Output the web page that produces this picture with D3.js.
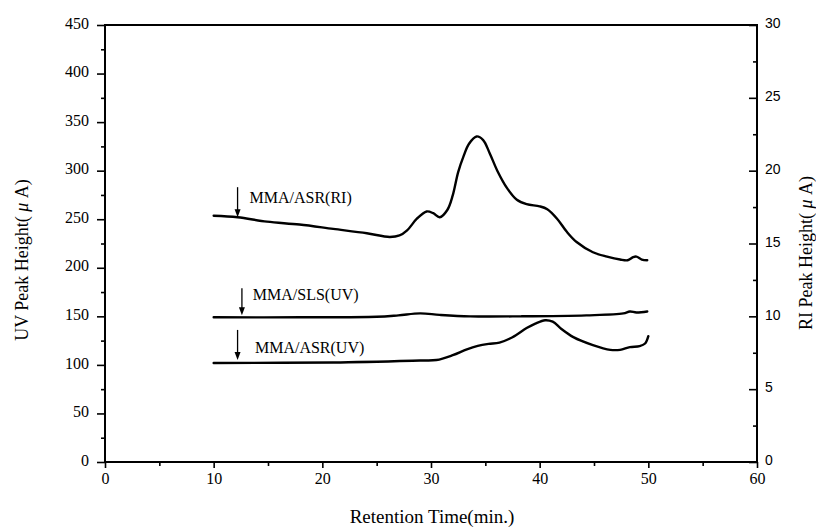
<!DOCTYPE html>
<html>
<head>
<meta charset="utf-8">
<script src="https://cdn.jsdelivr.net/npm/d3@7/dist/d3.min.js"></script>
<style>
   body { margin: 0; background: #fff; }
   svg { display: block; }
</style>
</head>
<body>
<div id="chart"></div>
<script>
//--------------------------------------------------------------
// DATA
//--------------------------------------------------------------
// MMA/ASR(RI) - right axis units
var riTime = [10, 12.2, 14.9, 17.9, 21.0, 24.1, 26.2, 27.1, 27.8, 28.7, 29.6, 30.2, 30.8, 31.5, 32.0, 32.5, 33.0, 33.5, 34.2, 34.8, 35.4, 36.1, 37.0, 37.9, 38.8, 40.0, 40.7, 41.6, 42.5, 43.4, 44.9, 46.2, 47.4, 48.1, 48.6, 48.9, 49.4, 49.9];
var riHeight = [16.9, 16.8, 16.5, 16.3, 16.0, 15.7, 15.45, 15.55, 15.9, 16.7, 17.2, 17.08, 16.8, 17.3, 18.3, 19.9, 21.0, 21.85, 22.35, 22.1, 21.2, 20.0, 18.8, 18.0, 17.7, 17.55, 17.35, 16.7, 15.8, 15.1, 14.4, 14.1, 13.9, 13.85, 14.06, 14.1, 13.9, 13.85];

// MMA/SLS(UV) - left axis units
var slsTime = [10, 18, 25, 27, 29, 30.8, 33.6, 38.2, 44.3, 47.7, 48.3, 48.9, 49.9];
var slsHeight = [149, 149, 149.5, 151, 153, 151.5, 150, 150, 151, 153, 155, 154, 155];

// MMA/ASR(UV) - left axis units
var asrTime = [10, 21, 29, 30.5, 32.0, 33.3, 34.3, 35.3, 36.3, 37.5, 38.8, 39.6, 40.5, 41.2, 42.0, 43.1, 44.9, 46.5, 47.4, 48.3, 49.2, 49.7, 50];
var asrHeight = [102, 102.5, 104.5, 105, 110, 116, 119.5, 121.6, 123, 128.5, 137.9, 142.5, 146, 144.5, 137, 128.6, 120.4, 115.5, 115.5, 118.3, 119.3, 122, 129.6];

// annotations (arrow + label), in left axis units
var annoText = ["MMA/ASR(RI)", "MMA/SLS(UV)", "MMA/ASR(UV)"];
var annoTime = [12.2, 12.6, 12.2];
var annoTop = [283, 179, 136];
var annoTip = [252, 151, 105];
var annoLabelTime = [13.3, 13.6, 13.8];
var annoLabelY = [272, 173, 118];

// tick values
var xTicks = [0, 10, 20, 30, 40, 50, 60];
var xMinor = [5, 15, 25, 35, 45, 55];
var yLeftTicks = [0, 50, 100, 150, 200, 250, 300, 350, 400, 450];
var yLeftMinor = [25, 75, 125, 175, 225, 275, 325, 375, 425];
var yRightTicks = [0, 5, 10, 15, 20, 25, 30];
var yRightMinor = [2.5, 7.5, 12.5, 17.5, 22.5, 27.5];

var xTitle = "Retention Time(min.)";
var yLeftTitle = ["UV Peak Height( ", "\u03bc", " A)"];
var yRightTitle = ["RI Peak Height( ", "\u03bc", " A)"];

//--------------------------------------------------------------
// CHART SIZE
//--------------------------------------------------------------
var width = 816;
var height = 528;
var plot = { left: 105, right: 757, top: 25, bottom: 462 };
var serif = "'Liberation Serif', 'Times New Roman', serif";
var sans = "'Liberation Sans', Arial, sans-serif";

var svg = d3.select("#chart").append("svg")
   .attr("width", width)
   .attr("height", height);

var xScale = d3.scaleLinear().domain([0, 60]).range([plot.left, plot.right]);
var yLeft = d3.scaleLinear().domain([0, 450]).range([plot.bottom, plot.top]);
var yRight = d3.scaleLinear().domain([0, 30]).range([plot.bottom, plot.top]);

//--------------------------------------------------------------
// AXES
//--------------------------------------------------------------
function styleAxis(g) {
   g.select(".domain").remove();
   g.selectAll("line").attr("stroke", "#000").attr("stroke-width", 1.6);
   g.selectAll("text").attr("fill", "#000");
}

// bottom
svg.append("g")
   .attr("transform", `translate(0,${plot.bottom})`)
   .call(d3.axisBottom(xScale).tickValues(xTicks).tickFormat(d3.format("d")).tickSize(6).tickPadding(5))
   .call(styleAxis)
   .selectAll("text").attr("font-family", serif).attr("font-size", 16);
svg.append("g")
   .attr("transform", `translate(0,${plot.bottom})`)
   .call(d3.axisBottom(xScale).tickValues(xMinor).tickFormat("").tickSize(4))
   .call(styleAxis);

// left
svg.append("g")
   .attr("transform", `translate(${plot.left},0)`)
   .call(d3.axisLeft(yLeft).tickValues(yLeftTicks).tickFormat(d3.format("d")).tickSize(8).tickPadding(8))
   .call(styleAxis)
   .selectAll("text").attr("font-family", serif).attr("font-size", 16).attr("dy", "0.2em");
svg.append("g")
   .attr("transform", `translate(${plot.left},0)`)
   .call(d3.axisLeft(yLeft).tickValues(yLeftMinor).tickFormat("").tickSize(4))
   .call(styleAxis);

// right (ticks point inward)
svg.append("g")
   .attr("transform", `translate(${plot.right},0)`)
   .call(d3.axisRight(yRight).tickValues(yRightTicks).tickFormat(d3.format("d")).tickSize(-8).tickPadding(8))
   .call(styleAxis)
   .selectAll("text").attr("font-family", sans).attr("font-size", 14).attr("dy", "0.2em");
svg.append("g")
   .attr("transform", `translate(${plot.right},0)`)
   .call(d3.axisRight(yRight).tickValues(yRightMinor).tickFormat("").tickSize(-4))
   .call(styleAxis);

// frame lines
svg.append("path")
   .attr("d", `M${plot.left},${plot.bottom}V${plot.top}H${plot.right}V${plot.bottom}Z`)
   .attr("fill", "none")
   .attr("stroke", "#000")
   .attr("stroke-width", 2);

// axis titles
svg.append("text")
   .attr("x", 432)
   .attr("y", 523)
   .attr("text-anchor", "middle")
   .attr("font-family", serif)
   .attr("font-size", 19)
   .text(xTitle);

function rotatedTitle(parts, x, y) {
   var t = svg.append("text")
      .attr("transform", `translate(${x},${y}) rotate(-90)`)
      .attr("text-anchor", "middle")
      .attr("font-family", serif)
      .attr("font-size", 18);
   parts.forEach(function(p, i) {
      t.append("tspan")
         .attr("font-style", i === 1 ? "italic" : "normal")
         .text(p);
   });
}
rotatedTitle(yLeftTitle, 28, 260);
rotatedTitle(yRightTitle, 812, 253);

//--------------------------------------------------------------
// CURVES
//--------------------------------------------------------------
function drawCurve(times, values, yScale) {
   var pts = times.map((t, i) => [t, values[i]]);
   var line = d3.line()
      .x(d => xScale(d[0]))
      .y(d => yScale(d[1]))
      .curve(d3.curveCatmullRom.alpha(0.5));
   svg.append("path")
      .datum(pts)
      .attr("d", line)
      .attr("fill", "none")
      .attr("stroke", "#000")
      .attr("stroke-width", 2.4)
      .attr("stroke-linejoin", "round")
      .attr("stroke-linecap", "round");
}

drawCurve(riTime, riHeight, yRight);
drawCurve(slsTime, slsHeight, yLeft);
drawCurve(asrTime, asrHeight, yLeft);

//--------------------------------------------------------------
// ANNOTATIONS
//--------------------------------------------------------------
annoText.forEach(function(label, i) {
   var ax = xScale(annoTime[i]);
   var top = yLeft(annoTop[i]);
   var tip = yLeft(annoTip[i]);
   svg.append("line")
      .attr("x1", ax).attr("x2", ax)
      .attr("y1", top).attr("y2", tip - 4)
      .attr("stroke", "#000")
      .attr("stroke-width", 1.3);
   svg.append("path")
      .attr("d", `M${ax - 3},${tip - 8}L${ax + 3},${tip - 8}L${ax},${tip}Z`)
      .attr("fill", "#000");
   svg.append("text")
      .attr("x", xScale(annoLabelTime[i]))
      .attr("y", yLeft(annoLabelY[i]))
      .attr("dy", "0.35em")
      .attr("font-family", serif)
      .attr("font-size", 16)
      .text(label);
});
</script>
</body>
</html>
